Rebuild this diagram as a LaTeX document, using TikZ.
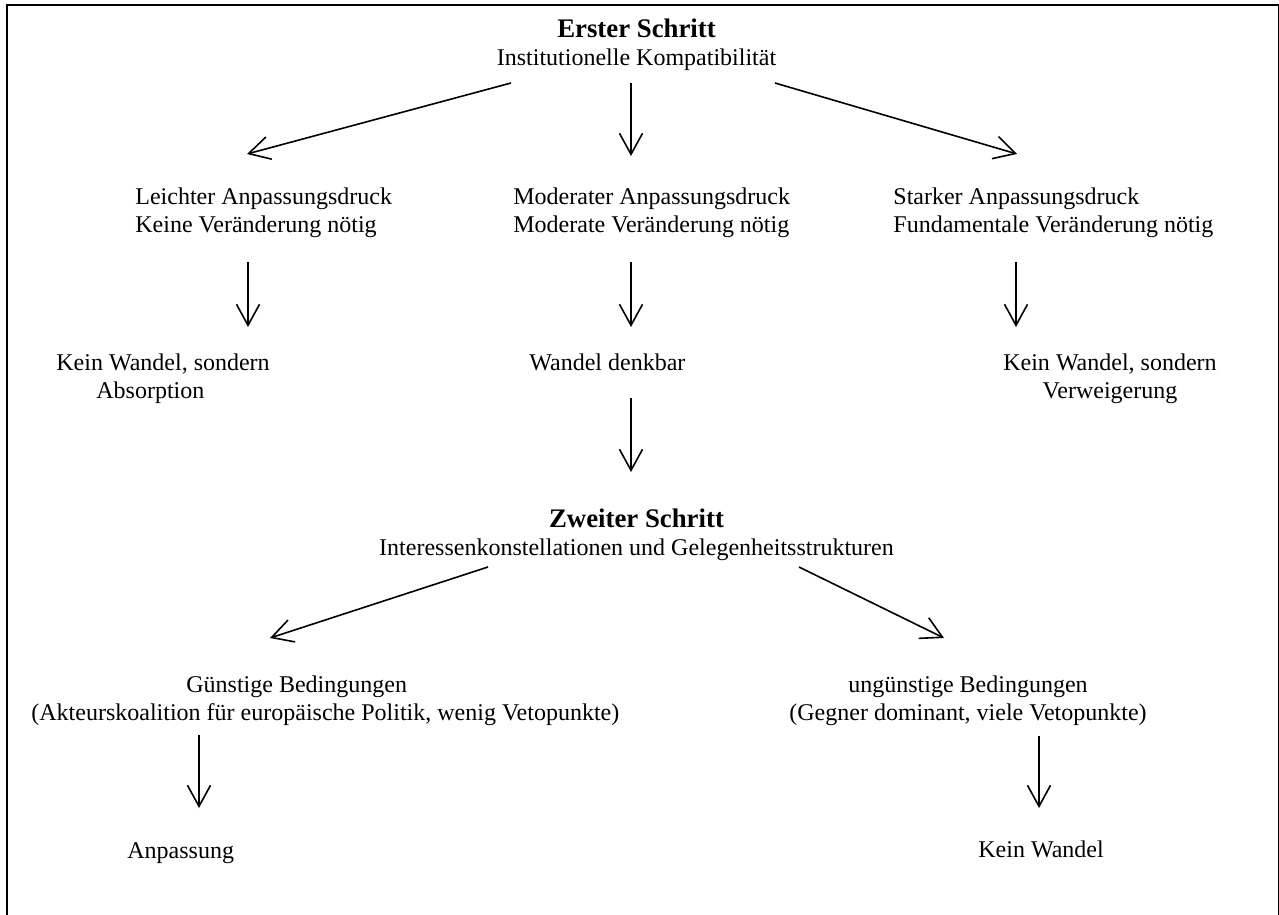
\documentclass[tikz,border=0pt]{standalone}
\usepackage{fontspec}
\setmainfont{Liberation Serif}
\usetikzlibrary{arrows.meta,calc}
\newcommand{\steptitle}[1]{{\fontsize{13.4}{14}\selectfont\bfseries #1}}
\begin{document}
\begin{tikzpicture}[x=0.5pt,y=-0.5pt,
  txt/.style={inner sep=0pt, font=\fontsize{12}{14}\selectfont},
  flow/.style={line width=0.8pt,
    -{Straight Barb[length=10.5pt,width=11.5pt,line width=0.8pt]}}]
\useasboundingbox (0,0) rectangle (1279,915);
% frame (open at the bottom edge of the page)
\draw[line width=1pt] (7,5) rectangle (1278.5,940);

% first step
\node[txt, anchor=base] (s1) at (636.5,38)
  {\begin{tabular}[t]{@{}c@{}}\steptitle{Erster Schritt}\\Institutionelle Kompatibilität\end{tabular}};

% adaptation pressure
\node[txt, anchor=base west] (p1) at (135,204)
  {\begin{tabular}[t]{@{}l@{}}Leichter Anpassungsdruck\\Keine Veränderung nötig\end{tabular}};
\node[txt, anchor=base west] (p2) at (513,204)
  {\begin{tabular}[t]{@{}l@{}}Moderater Anpassungsdruck\\Moderate Veränderung nötig\end{tabular}};
\node[txt, anchor=base west] (p3) at (893,204)
  {\begin{tabular}[t]{@{}l@{}}Starker Anpassungsdruck\\Fundamentale Veränderung nötig\end{tabular}};

% results of the first step
\node[txt, anchor=base west] (r1) at (56,370)
  {\begin{tabular}[t]{@{}l@{}}Kein Wandel, sondern\\\hspace*{20pt}Absorption\end{tabular}};
\node[txt, anchor=base west] (r2) at (529,370) {Wandel denkbar};
\node[txt, anchor=base] (r3) at (1110,370)
  {\begin{tabular}[t]{@{}c@{}}Kein Wandel, sondern\\Verweigerung\end{tabular}};

% second step
\node[txt, anchor=base] (s2) at (636.5,527)
  {\begin{tabular}[t]{@{}c@{}}\steptitle{Zweiter Schritt}\\Interessenkonstellationen und Gelegenheitsstrukturen\end{tabular}};

% conditions
\node[txt, anchor=base west] (c1) at (31,692)
  {\begin{tabular}[t]{@{}l@{}}\hspace*{77.5pt}Günstige Bedingungen\\(Akteurskoalition für europäische Politik, wenig Vetopunkte)\end{tabular}};
\node[txt, anchor=base] (c2) at (968,692)
  {\begin{tabular}[t]{@{}c@{}}ungünstige Bedingungen\\(Gegner dominant, viele Vetopunkte)\end{tabular}};

% outcomes
\node[txt, anchor=base west] (o1) at (127,858) {Anpassung};
\node[txt, anchor=base west] (o2) at (978,857) {Kein Wandel};

% connectors
\draw[flow] ($(s1.base)+(-125.5,45)$) -- ($(p1.base west)+(112,-50)$);
\draw[flow] ($(s1.base)+(-5.5,45)$) -- ($(p2.base west)+(118,-48)$);
\draw[flow] ($(s1.base)+(138.5,45)$) -- ($(p3.base west)+(124,-50)$);

\draw[flow] ($(p1.base west)+(113,58)$) -- ($(r1.base west)+(192,-43)$);
\draw[flow] ($(p2.base west)+(118,58)$) -- ($(r2.base west)+(102,-43)$);
\draw[flow] ($(p3.base west)+(123,58)$) -- ($(r3.base)+(-94,-43)$);

\draw[flow] ($(r2.base west)+(102,28)$) -- ($(s2.base)+(-5.5,-55)$);

\draw[flow] ($(s2.base)+(-148.5,40)$) -- ($(c1.base west)+(239,-54)$);
\draw[flow] ($(s2.base)+(162.5,40)$) -- ($(c2.base)+(-24,-54)$);

\draw[flow] ($(c1.base west)+(168,43)$) -- ($(o1.base west)+(72,-50)$);
\draw[flow] ($(c2.base)+(71,44)$) -- ($(o2.base west)+(61,-49)$);
\end{tikzpicture}
\end{document}
